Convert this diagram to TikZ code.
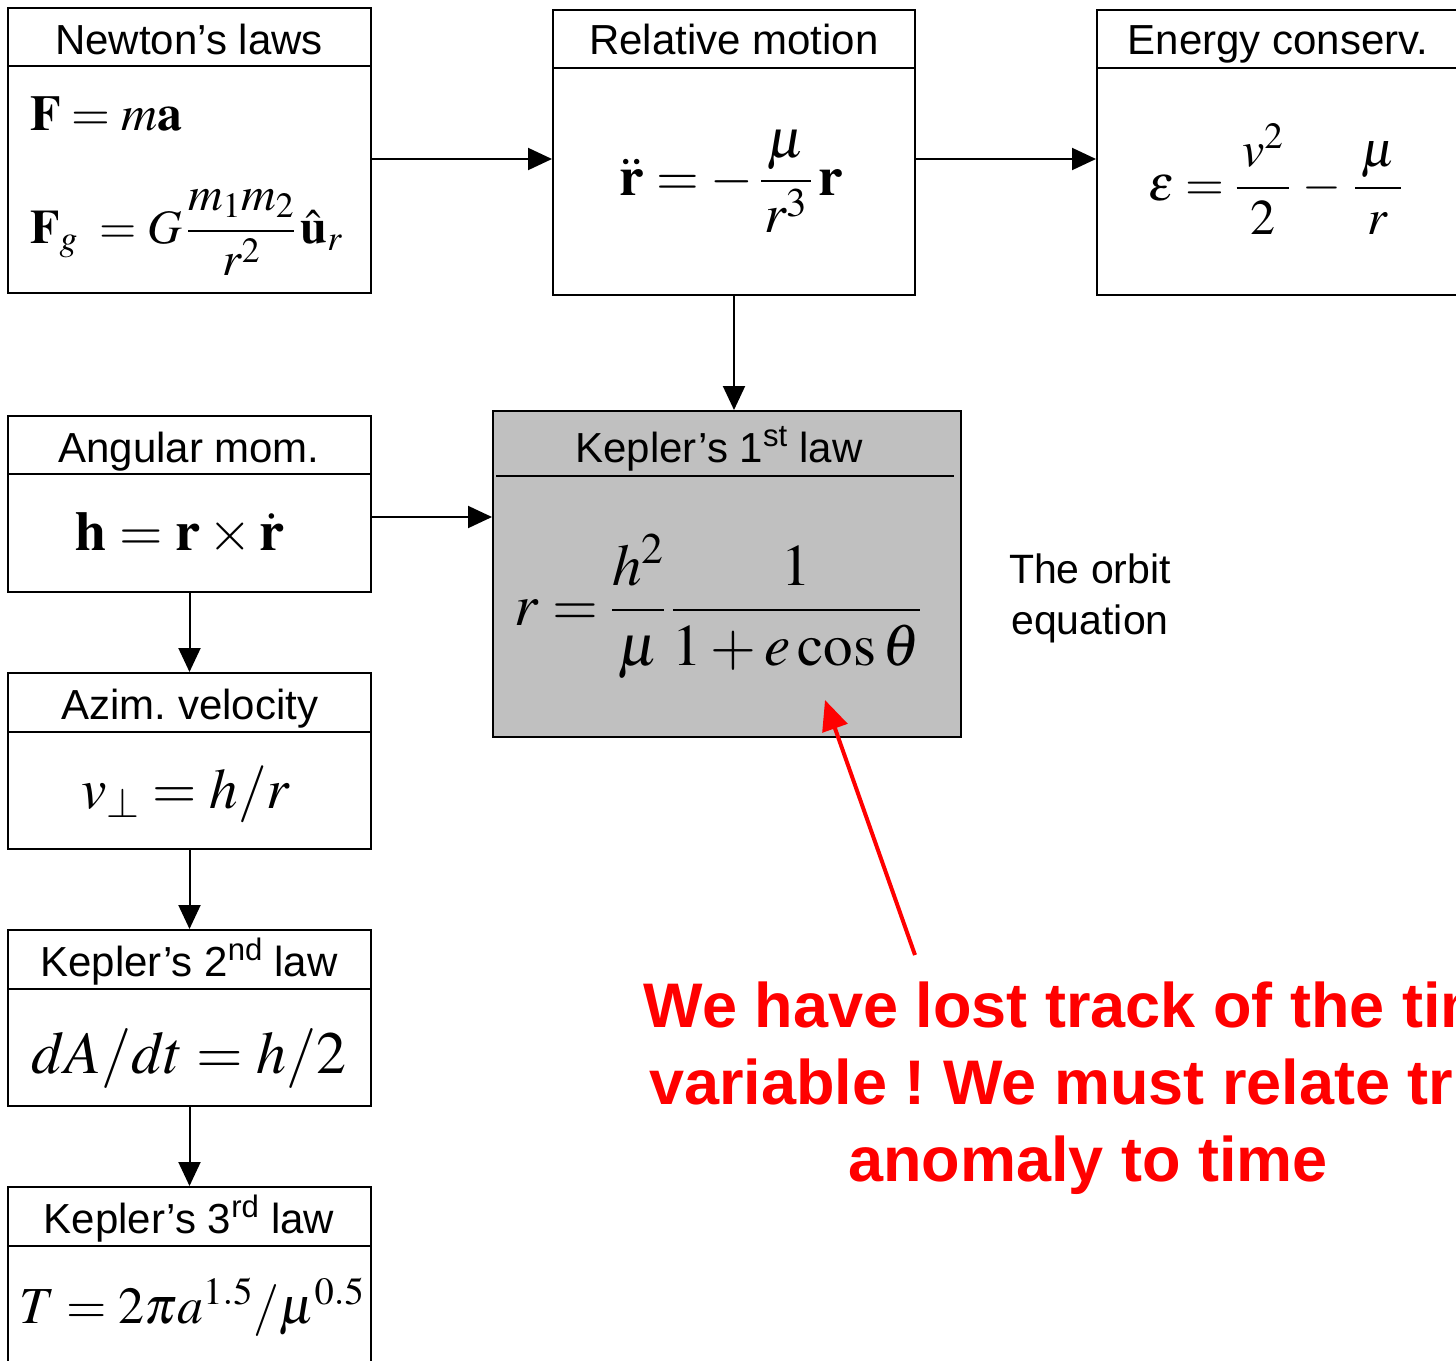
\documentclass[tikz,border=0pt]{standalone}
\usepackage{mathptmx}
\usepackage{amsmath}
\usepackage[no-math]{fontspec}
\setmainfont{Liberation Sans}
\usetikzlibrary{arrows.meta}
\definecolor{kgray}{RGB}{192,192,192}
\frenchspacing
\tikzset{
  box/.style={draw, line width=2pt, rectangle, inner sep=0pt},
  ttl/.style={font=\fontsize{42}{50}\selectfont, anchor=base},
  arr/.style={line width=2pt, -{Triangle[length=24pt,width=22pt]}},
  eq/.style={anchor=base, inner sep=0pt},
  redarr/.style={draw=red, line width=4pt, -{Triangle[length=30pt,width=26pt]}},
}
\newcommand{\fs}[1]{\fontsize{#1}{#1}\selectfont}
\begin{document}
\begin{tikzpicture}[x=1pt,y=-1pt]
\useasboundingbox (0,0) rectangle (1456,1360);
\clip (0,0) rectangle (1456,1360);
% boxes
\node[box, minimum width=363pt, minimum height=285pt] (newton) at (189.5,150.5) {};
\node[box, minimum width=362pt, minimum height=285pt] (rel) at (734,152.5) {};
\node[box, minimum width=362pt, minimum height=285pt] (energy) at (1278,152.5) {};
\node[box, fill=kgray, minimum width=468pt, minimum height=326pt] (kep1) at (727,574) {};
\node[box, minimum width=363pt, minimum height=176pt] (ang) at (189.5,504) {};
\node[box, minimum width=363pt, minimum height=176pt] (azim) at (189.5,761) {};
\node[box, minimum width=363pt, minimum height=176pt] (kep2) at (189.5,1018) {};
\node[box, minimum width=363pt, minimum height=200pt] (kep3) at (189.5,1287) {};
% header lines
\draw[line width=2pt] ([yshift=-59pt]newton.north west) -- ([yshift=-59pt]newton.north east);
\draw[line width=2pt] ([yshift=-59pt]rel.north west) -- ([yshift=-59pt]rel.north east);
\draw[line width=2pt] ([yshift=-59pt]energy.north west) -- ([yshift=-59pt]energy.north east);
\draw[line width=2pt] ([xshift=4pt,yshift=-66pt]kep1.north west) -- ([xshift=-8pt,yshift=-66pt]kep1.north east);
\draw[line width=2pt] ([yshift=-59pt]ang.north west) -- ([yshift=-59pt]ang.north east);
\draw[line width=2pt] ([yshift=-60pt]azim.north west) -- ([yshift=-60pt]azim.north east);
\draw[line width=2pt] ([yshift=-60pt]kep2.north west) -- ([yshift=-60pt]kep2.north east);
\draw[line width=2pt] ([yshift=-60pt]kep3.north west) -- ([yshift=-60pt]kep3.north east);
% titles
\node[ttl] (tnewton) at (189,54) {Newton’s laws};
\node[ttl] (trel) at (734,54) {Relative motion};
\node[ttl] (tenergy) at (1278,54) {Energy conserv.};
\node[ttl] (tkep1) at (719,462) {Kepler’s 1\textsuperscript{st} law};
\node[ttl] (tang) at (189,462) {Angular mom.};
\node[ttl] (tazim) at (190,719) {Azim. velocity};
\node[ttl] (tkep2) at (189,976) {Kepler’s 2\textsuperscript{nd} law};
\node[ttl] (tkep3) at (189,1233) {Kepler’s 3\textsuperscript{rd} law};
% equations
\node[eq, anchor=base west] (e1) at (30,130) {\fs{50}$\mathbf{F}=m\mathbf{a}$};
\node[eq, anchor=base west] (e2) at (30,243) {\fs{48}$\mathbf{F}_g\;=G\,\dfrac{m_1m_2}{r^2}\,\hat{\mathbf{u}}_r$};
\node[eq] (e3) at (731,195) {\fs{55}$\ddot{\mathbf{r}}=-\,\dfrac{\,\mu\,}{r^3}\,\mathbf{r}$};
\node[eq] (e4) at (1275,200) {\fs{50}$\varepsilon=\dfrac{\,v^2\,}{2}\,-\,\dfrac{\,\mu\,}{r}$};
\node[eq] (e5) at (718,625) {\fs{59}$r=\dfrac{h^2}{\mu}\,\dfrac{1}{1+e\cos\theta}$};
\node[eq] (e6) at (180,550) {\fs{56}$\mathbf{h}=\mathbf{r}\times\dot{\mathbf{r}}$};
\node[eq] (e7) at (186,808) {\fs{57}$v_\perp=h/r$};
\node[eq] (e8) at (189,1073) {\fs{60}$dA/dt=h/2$};
\node[eq] (e9) at (192,1323) {\fs{52}$T=2\pi a^{1.5}/\mu^{0.5}$};
% side text
\node[align=center, font=\fontsize{41}{51}\selectfont, anchor=base] (orbit) at (1090,634) {The orbit\\equation};
\node[align=center, text=red, font=\fontsize{63}{77}\selectfont\bfseries] (note) at (1088,1088) {We have lost track of the time\\variable ! We must relate true\\anomaly to time};
% arrows
\draw[arr] ([yshift=-8.5pt]newton.east) -- ([yshift=-6.5pt]rel.west);
\draw[arr] ([yshift=-6.5pt]rel.east) -- ([yshift=-6.5pt]energy.west);
\draw[arr] (rel.south) -- (rel.south |- kep1.north);
\draw[arr] ([yshift=-13pt]ang.east) coordinate (a1) -- (a1 -| kep1.west);
\draw[arr] (ang.south) -- (azim.north);
\draw[arr] (azim.south) -- (kep2.north);
\draw[arr] (kep2.south) -- (kep3.north);
\coordinate (rtail) at (915,955);
\coordinate (rtip) at (825,700);
\draw[redarr] (rtail) -- (rtip);
\end{tikzpicture}
\end{document}
